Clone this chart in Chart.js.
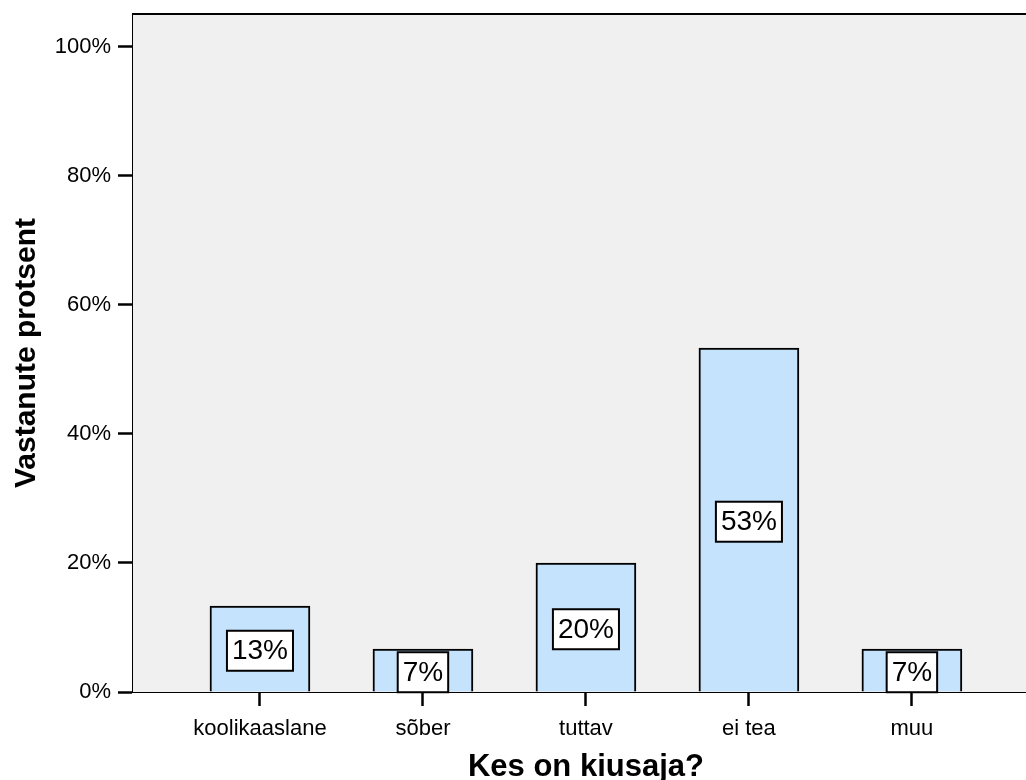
<!DOCTYPE html>
<html>
<head>
<meta charset="utf-8">
<script src="https://cdn.jsdelivr.net/npm/chart.js@4/dist/chart.umd.min.js"></script>
<style>
  html, body { margin: 0; padding: 0; background: #ffffff; overflow: hidden; }
  #wrap { width: 1026px; height: 780px; position: relative; }
</style>
</head>
<body>
<div id="wrap"><canvas id="chart"></canvas></div>
<script>
const categories = ['koolikaaslane', 'sõber', 'tuttav', 'ei tea', 'muu'];
const percents = [13.33, 6.67, 20.0, 53.33, 6.67];
const valueLabels = ['13%', '7%', '20%', '53%', '7%'];
const yTicks = [0, 20, 40, 60, 80, 100];
const xTitle = 'Kes on kiusaja?';
const yTitle = 'Vastanute protsent';

const FONT = '"Liberation Sans", Arial, Helvetica, sans-serif';

// gray plot background + top frame line
const plotFrame = {
    id: 'plotFrame',
    beforeDatasetsDraw(chart) {
        const { ctx, chartArea: a } = chart;
        ctx.save();
        ctx.fillStyle = '#f0f0f0';
        ctx.fillRect(a.left, a.top, a.right - a.left, a.bottom - a.top);
        ctx.strokeStyle = '#000';
        ctx.lineWidth = 2;
        ctx.beginPath();
        ctx.moveTo(a.left, a.top);
        ctx.lineTo(a.right, a.top);
        ctx.stroke();
        ctx.restore();
    }
};

// white boxed value labels in the middle of each bar
const boxLabels = {
    id: 'boxLabels',
    afterDatasetsDraw(chart) {
        const { ctx } = chart;
        const meta = chart.getDatasetMeta(0);
        ctx.save();
        ctx.font = '28px ' + FONT;
        ctx.textAlign = 'center';
        ctx.textBaseline = 'middle';
        meta.data.forEach((bar, i) => {
            const txt = valueLabels[i];
            const w = ctx.measureText(txt).width + 10;
            const h = 40;
            const cy = (bar.y + bar.base) / 2 + 2;
            ctx.fillStyle = '#fff';
            ctx.fillRect(bar.x - w / 2, cy - h / 2, w, h);
            ctx.strokeStyle = '#000';
            ctx.lineWidth = 2;
            ctx.strokeRect(bar.x - w / 2, cy - h / 2, w, h);
            ctx.fillStyle = '#000';
            ctx.fillText(txt, bar.x, cy + 1);
        });
        ctx.restore();
    }
};

// axis titles
const axisTitles = {
    id: 'axisTitles',
    afterDraw(chart) {
        const { ctx, chartArea: a } = chart;
        const xs = chart.scales.x;
        ctx.save();
        ctx.fillStyle = '#000';
        ctx.font = 'bold 31px ' + FONT;
        ctx.textAlign = 'center';
        ctx.textBaseline = 'alphabetic';
        ctx.fillText(xTitle, xs.getPixelForValue(2), 776);
        ctx.font = 'bold 30px ' + FONT;
        ctx.translate(35, (a.top + a.bottom) / 2);
        ctx.rotate(-Math.PI / 2);
        ctx.fillText(yTitle, 0, 0);
        ctx.restore();
    }
};

new Chart(document.getElementById('chart'), {
    type: 'bar',
    data: {
        datasets: [{
            data: percents.map((v, i) => ({ x: i, y: v })),
            backgroundColor: '#c6e3fd',
            borderColor: '#000',
            borderWidth: 2,
            barThickness: 100
        }]
    },
    options: {
        responsive: true,
        maintainAspectRatio: false,
        animation: false,
        layout: { padding: { top: 14, left: 0, right: 0, bottom: 0 } },
        plugins: {
            legend: { display: false },
            tooltip: { enabled: false }
        },
        scales: {
            x: {
                type: 'linear',
                offset: false,
                min: -0.779,
                max: 4.70,
                z: 1,
                afterFit: s => { s.height = 88; s.paddingLeft = 0; s.paddingRight = 0; },
                afterBuildTicks: s => { s.ticks = categories.map((c, i) => ({ value: i })); },
                grid: {
                    offset: false,
                    drawOnChartArea: false,
                    drawTicks: true,
                    tickLength: 14,
                    tickWidth: 2.5,
                    tickColor: '#000'
                },
                border: { display: true, color: '#000', width: 2 },
                ticks: {
                    autoSkip: false,
                    maxRotation: 0,
                    padding: 10,
                    color: '#000',
                    font: { family: FONT, size: 22 },
                    callback: v => categories[v]
                }
            },
            y: {
                min: 0,
                max: 105.1,
                z: 1,
                afterFit: s => { s.width = 133; s.paddingTop = 0; s.paddingBottom = 0; },
                afterBuildTicks: s => { s.ticks = yTicks.map(v => ({ value: v })); },
                grid: {
                    drawOnChartArea: false,
                    drawTicks: true,
                    tickLength: 15,
                    tickWidth: 2.5,
                    tickColor: '#000'
                },
                border: { display: true, color: '#000', width: 2.5 },
                ticks: {
                    padding: 7,
                    color: '#000',
                    font: { family: FONT, size: 22 },
                    callback: v => v + '%'
                }
            }
        }
    },
    plugins: [plotFrame, boxLabels, axisTitles]
});
</script>
</body>
</html>
